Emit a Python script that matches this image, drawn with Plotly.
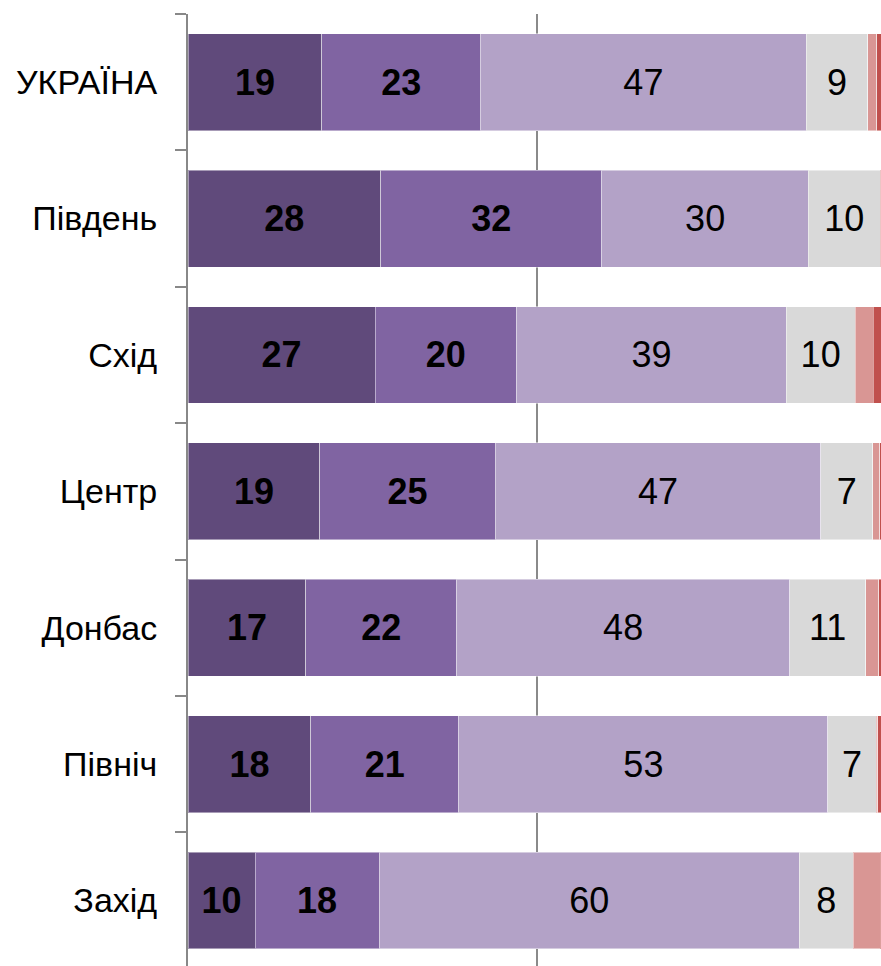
import plotly.graph_objects as go

regions = ["УКРАЇНА", "Південь", "Схід", "Центр", "Донбас", "Північ", "Захід"]

seg1 = [19.2, 27.6, 26.8, 18.9, 16.9, 17.6, 9.6]
seg2 = [22.7, 31.7, 20.3, 25.1, 21.6, 21.2, 17.8]
seg3 = [46.7, 29.6, 38.6, 46.7, 47.7, 52.9, 60.2]
seg4 = [8.8, 10.3, 9.9, 7.4, 10.9, 6.9, 7.7]
seg5 = [1.3, 0.3, 2.6, 1.0, 1.9, 0.2, 3.9]
seg6 = [1.0, 0.0, 1.2, 0.3, 0.6, 0.6, 0.3]

series = [
    ("1", seg1, "#604A7B", True, True),
    ("2", seg2, "#8064A2", True, True),
    ("3", seg3, "#B3A2C7", True, False),
    ("4", seg4, "#D9D9D9", True, False),
    ("5", seg5, "#D99694", False, False),
    ("6", seg6, "#C0504D", False, False),
]

FONT = "Liberation Sans, Arial, sans-serif"

fig = go.Figure()
for name, vals, color, show_text, bold in series:
    txt = [(f"<b>{round(v)}</b>" if bold else f"{round(v)}") if show_text else "" for v in vals]
    fig.add_trace(go.Bar(
        y=regions, x=vals, name=name, orientation="h",
        marker=dict(color=color, line=dict(color="rgba(255,255,255,0.45)", width=1)),
        text=txt, textposition="inside", insidetextanchor="middle", textangle=0,
        constraintext="none",
        textfont=dict(family=FONT, size=36, color="black"),
        hoverinfo="skip",
    ))

fig.update_layout(
    barmode="stack", bargap=0.29,
    width=881, height=966,
    margin=dict(l=188, r=0, t=14, b=0),
    plot_bgcolor="white", paper_bgcolor="white",
    showlegend=False,
    font=dict(family=FONT, color="black"),
    xaxis=dict(range=[0, 99.3], showticklabels=False, ticks="",
               tickvals=[50], showgrid=True, gridcolor="#8a8a8a", gridwidth=1.5,
               zeroline=False, showline=False, fixedrange=True),
    yaxis=dict(type="category", categoryorder="array", categoryarray=regions,
               range=[6.48, -0.5], showline=True, linecolor="#888888", linewidth=2,
               ticks="outside", tickson="boundaries", ticklen=11, tickwidth=2,
               tickcolor="#888888", ticklabelstandoff=22,
               tickfont=dict(family=FONT, size=34, color="black"),
               showgrid=False, zeroline=False, fixedrange=True),
)

fig.write_html(
    "out.html",
    config={"displayModeBar": False},
    post_script="document.body.style.margin='0';document.body.style.overflow='hidden';",
)
